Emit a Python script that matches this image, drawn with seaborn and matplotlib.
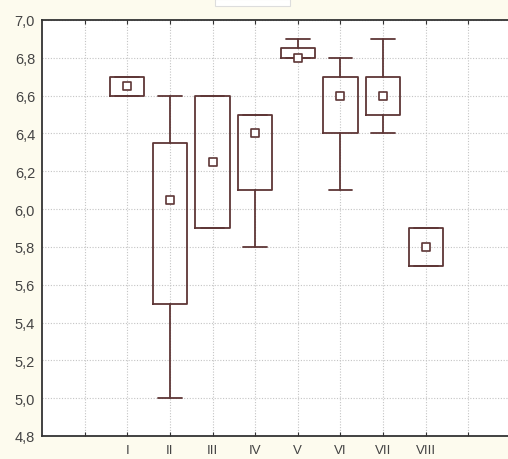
import matplotlib
matplotlib.use("Agg")
import matplotlib.pyplot as plt
import seaborn as sns
import pandas as pd
from matplotlib.patches import Rectangle

groups = ["I", "II", "III", "IV", "V", "VI", "VII", "VIII"]
means = [6.65, 6.05, 6.25, 6.40, 6.80, 6.60, 6.60, 5.80]
box_low = [6.60, 5.50, 5.90, 6.10, 6.80, 6.40, 6.50, 5.70]
box_high = [6.70, 6.35, 6.60, 6.50, 6.85, 6.70, 6.70, 5.90]
whisk_low = [6.60, 5.00, 5.90, 5.80, 6.80, 6.10, 6.40, 5.70]
whisk_high = [6.70, 6.60, 6.60, 6.50, 6.90, 6.80, 6.90, 5.90]
xtick_labels = [""] + groups + [""]
ytick_values = [4.8, 5.0, 5.2, 5.4, 5.6, 5.8, 6.0, 6.2, 6.4, 6.6, 6.8, 7.0]

sns.set_style("white")
plt.rcParams['font.family'] = ['Liberation Sans', 'DejaVu Sans']

col = "#5e3636"
bg = "#fdfbee"

fig = plt.figure(figsize=(5.08, 4.60), dpi=100, facecolor=bg)
ax = fig.add_axes([42 / 508, 1 - 437 / 460, (511 - 42) / 508, (437 - 21) / 460])
ax.set_facecolor("white")

positions = list(range(1, len(groups) + 1))
stats = []
for g, m, bl, bh, wl, wh in zip(groups, means, box_low, box_high, whisk_low, whisk_high):
    stats.append(dict(label=g, mean=m, med=m, q1=bl, q3=bh, whislo=wl, whishi=wh, fliers=[]))

ax.bxp(stats, positions=positions, widths=0.8, showmeans=False, showfliers=False,
       boxprops=dict(color=col, linewidth=1.3),
       whiskerprops=dict(color=col, linewidth=1.3),
       capprops=dict(color=col, linewidth=1.3),
       medianprops=dict(linewidth=0),
       capwidths=0.56, zorder=3)

df = pd.DataFrame({"pos": positions, "mean": means})
sns.scatterplot(data=df, x="pos", y="mean", ax=ax, marker="s", s=26,
                facecolor="white", edgecolor=col, linewidth=1.2, zorder=4, legend=False)

ax.set_xlim(-1, 10)
ax.set_ylim(4.8, 7.0)
ax.set_xticks(range(0, 10))
ax.set_xticklabels(xtick_labels)
ax.set_yticks(ytick_values)
ax.set_yticklabels([f"{v:.1f}".replace(".", ",") for v in ytick_values])
ax.set_xlabel("")
ax.set_ylabel("")

ax.grid(True, color="#c4c4c4", linestyle=(0, (1, 1.5)), linewidth=0.8, zorder=0)
ax.set_axisbelow(True)

for s in ["left", "top", "bottom"]:
    ax.spines[s].set_visible(True)
    ax.spines[s].set_color("#333333")
    ax.spines[s].set_linewidth(1.3)
ax.spines["right"].set_visible(False)

ax.tick_params(axis="x", direction="in", length=3, color="#333333", labelsize=9.5,
               labelcolor="#444444", top=True, bottom=True, pad=6)
ax.tick_params(axis="y", direction="in", length=0, labelsize=10.5, labelcolor="#444444", pad=5)

fig.patches.append(Rectangle((215 / 508, 1 - 7 / 460), 75 / 508, 7 / 460,
                             transform=fig.transFigure, facecolor="white",
                             edgecolor="#dddddd", linewidth=0.8))

fig.savefig("out.png", dpi=100, facecolor=bg)
